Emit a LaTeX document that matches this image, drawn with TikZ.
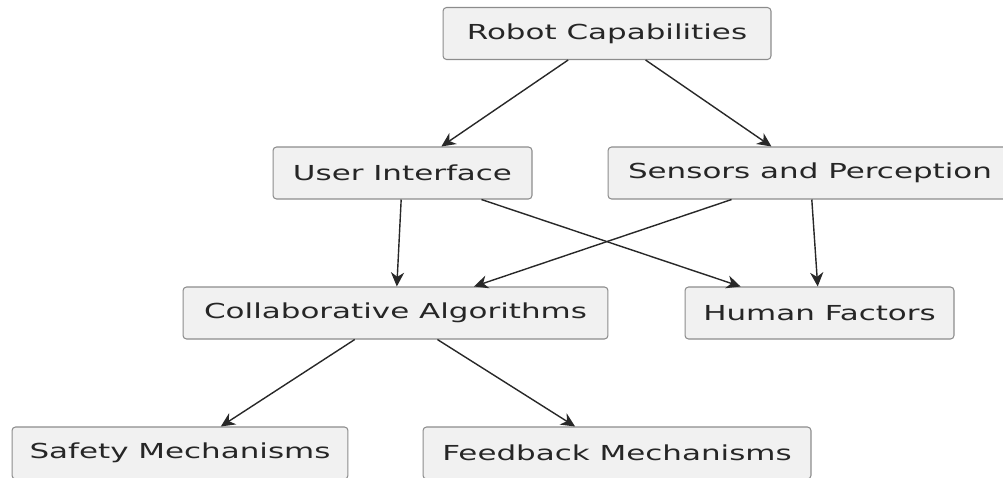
\documentclass[tikz,border=0pt]{standalone}
\usepackage{fontspec}
\setmainfont[FakeStretch=1.5]{DejaVu Sans}
\usetikzlibrary{arrows.meta}
\definecolor{boxfill}{RGB}{241,241,241}
\definecolor{boxline}{RGB}{140,140,140}
\definecolor{linkcol}{RGB}{40,40,40}
\begin{document}
\begin{tikzpicture}[x=0.02cm, y=-0.02cm,
    box/.style={draw=boxline, fill=boxfill, rounded corners=2pt, line width=0.6pt,
      minimum height=1.04cm, inner sep=0pt, text=black!85,
      font=\fontsize{11.75}{13}\selectfont},
    link/.style={draw=linkcol, line width=0.8pt,
      -{Stealth[length=8pt, width=7.5pt, inset=2.5pt]}}]
  \clip (0,0) rectangle (1003,477);
  % boxes, one row after the other
  \node[box, minimum width=6.56cm] (robot)    at (607,33.5)  {Robot Capabilities};
  \node[box, minimum width=5.18cm] (ui)       at (402.5,173) {User Interface};
  \node[box, minimum width=8.08cm] (sensors)  at (810,173)   {Sensors and Perception};
  \node[box, minimum width=8.5cm]  (collab)   at (395.5,313) {Collaborative Algorithms};
  \node[box, minimum width=5.38cm] (human)    at (819.5,313) {Human Factors};
  \node[box, minimum width=6.72cm] (safety)   at (180,453)   {Safety Mechanisms};
  \node[box, minimum width=7.76cm] (feedback) at (617,453)   {Feedback Mechanisms};
  % arrows
  \draw[link] (robot) -- (ui);
  \draw[link] (robot) -- (sensors);
  \draw[link] (ui) -- (collab);
  \draw[link] (ui) -- (human);
  \draw[link] (sensors) -- (collab);
  \draw[link] (sensors) -- (human);
  \draw[link] (collab) -- (safety);
  \draw[link] (collab) -- (feedback);
\end{tikzpicture}
\end{document}
